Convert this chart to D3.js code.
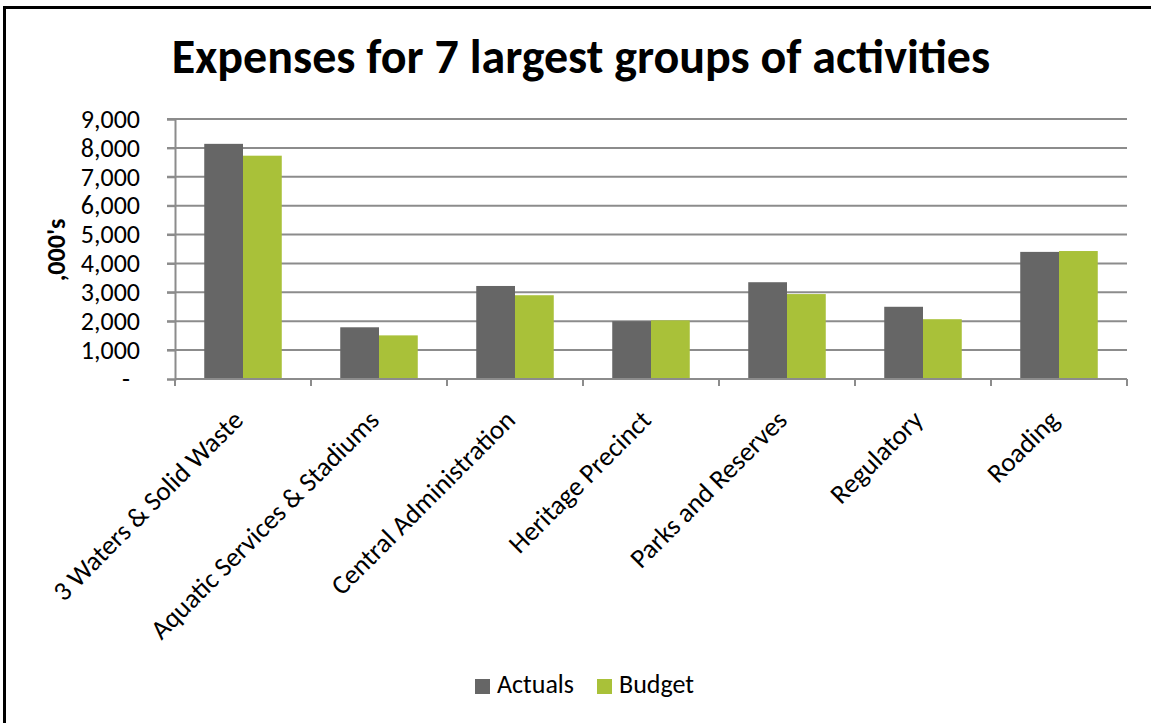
<!DOCTYPE html>
<html>
<head>
<meta charset="utf-8">
<script src="https://cdn.jsdelivr.net/npm/d3@7"></script>
<style>
  body { margin: 0; background: #fff; }
  text { font-family: Calibri, Carlito, Lato, "Open Sans", sans-serif; }
</style>
</head>
<body>
<div id="chart"></div>
<script>
var categories = ["3 Waters & Solid Waste", "Aquatic Services & Stadiums", "Central Administration",
                  "Heritage Precinct", "Parks and Reserves", "Regulatory", "Roading"];
var actuals = [8140, 1790, 3220, 2000, 3350, 2500, 4400];
var budget  = [7730, 1510, 2900, 2030, 2940, 2070, 4430];
var seriesNames = ["Actuals", "Budget"];
var colors = ["#666666", "#a9c139"];
var yTicks = [0, 1000, 2000, 3000, 4000, 5000, 6000, 7000, 8000, 9000];

var width = 1151, height = 723;
var margin = {top: 119, right: 24, bottom: 344, left: 175};
var plotW = width - margin.left - margin.right,
    plotH = height - margin.top - margin.bottom;

var svg = d3.select("#chart").append("svg").attr("width", width).attr("height", height);

// outer frame (clipped on the right and bottom like the original)
svg.append("rect").attr("x", 4.5).attr("y", 7.5)
    .attr("width", 1160).attr("height", 730)
    .attr("fill", "none").attr("stroke", "#000").attr("stroke-width", 3);

svg.append("text").attr("x", 581).attr("y", 73)
    .attr("text-anchor", "middle").attr("font-size", 48).attr("font-weight", "bold")
    .text("Expenses for 7 largest groups of activities");

var g = svg.append("g").attr("transform", "translate(" + margin.left + "," + margin.top + ")");

var x = d3.scaleBand().domain(categories).range([0, plotW]);
var y = d3.scaleLinear().domain([0, 9000]).range([plotH, 0]);

// gridlines
g.append("g").selectAll("line").data(yTicks.slice(1)).enter().append("line")
    .attr("x1", -8).attr("x2", plotW)
    .attr("y1", function(d) { return y(d); }).attr("y2", function(d) { return y(d); })
    .attr("stroke", "#8c8c8c").attr("stroke-width", 2);

// y axis
var yAxis = g.append("g").call(d3.axisLeft(y).tickValues(yTicks).tickSize(8)
    .tickFormat(function(d) { return d === 0 ? "-" : d3.format(",")(d); }));
yAxis.select(".domain").attr("stroke", "#8c8c8c").attr("stroke-width", 2);
yAxis.selectAll(".tick line").attr("stroke", "#8c8c8c").attr("stroke-width", 2);
yAxis.selectAll("text").attr("font-size", 26).attr("fill", "#000")
    .attr("x", function(d) { return d === 0 ? -45 : -35; })
    .style("font-family", "Calibri, Carlito, Lato, 'Open Sans', sans-serif");

svg.append("text").attr("transform", "translate(65,250) rotate(-90)")
    .attr("text-anchor", "middle").attr("font-size", 26).attr("font-weight", "bold")
    .text(",000's");

// bars
var barW = x.bandwidth() * 0.285;
var gap = (x.bandwidth() - 2 * barW) / 2;
[actuals, budget].forEach(function(vals, s) {
    g.append("g").selectAll("rect").data(vals).enter().append("rect")
        .attr("x", function(d, i) { return x(categories[i]) + gap + s * barW; })
        .attr("y", function(d) { return y(d); })
        .attr("width", barW)
        .attr("height", function(d) { return plotH - y(d); })
        .attr("fill", colors[s]);
});

// x axis line and ticks at category boundaries
g.append("line").attr("x1", 0).attr("x2", plotW).attr("y1", plotH).attr("y2", plotH)
    .attr("stroke", "#8c8c8c").attr("stroke-width", 2);
g.append("g").selectAll("line").data(d3.range(categories.length + 1)).enter().append("line")
    .attr("x1", function(d) { return d * x.step(); }).attr("x2", function(d) { return d * x.step(); })
    .attr("y1", plotH).attr("y2", plotH + 7)
    .attr("stroke", "#8c8c8c").attr("stroke-width", 2);

g.append("g").selectAll("text").data(categories).enter().append("text")
    .attr("transform", function(d) {
        return "translate(" + (x(d) + x.bandwidth() / 2 - 5) + "," + (plotH + 36) + ") rotate(-45)";
    })
    .attr("text-anchor", "end").attr("dy", "0.35em").attr("font-size", 27)
    .text(function(d) { return d; });

// legend
var legend = svg.append("g").attr("transform", "translate(475,693)");
var lx = [0, 122];
seriesNames.forEach(function(name, i) {
    legend.append("rect").attr("x", lx[i]).attr("y", -14).attr("width", 15).attr("height", 15)
        .attr("fill", colors[i]);
    legend.append("text").attr("x", lx[i] + 22).attr("y", 0)
        .attr("font-size", 26).text(name);
});
</script>
</body>
</html>
